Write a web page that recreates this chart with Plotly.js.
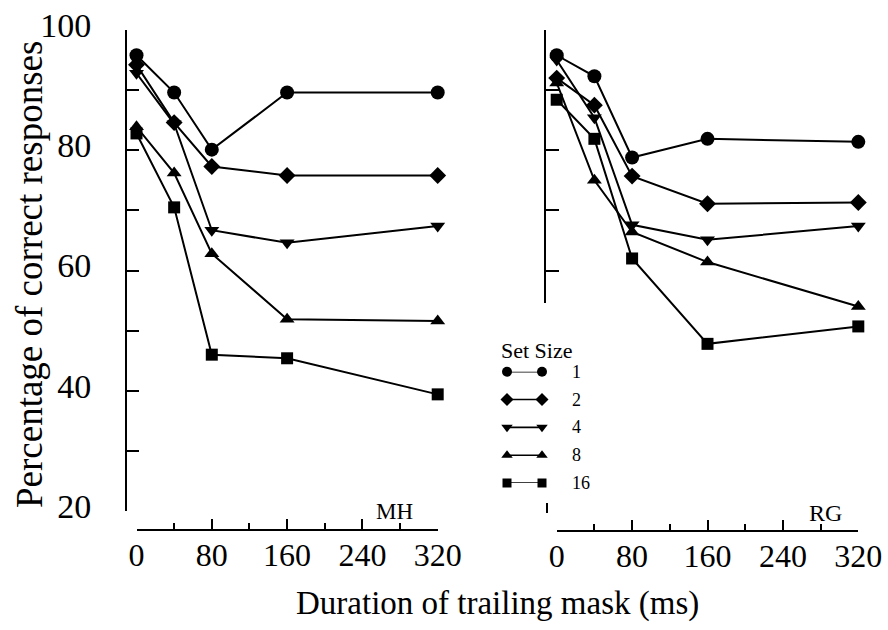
<!DOCTYPE html>
<html><head><meta charset="utf-8">
<script src="https://cdn.plot.ly/plotly-3.0.1.min.js"></script>
<style>html,body{margin:0;padding:0;background:#fff}</style>
</head><body><div id="chart" style="width:888px;height:630px"></div>
<script>
// ---- data ----
const durations = [0, 40, 80, 160, 320];
const setSizes = ['1', '2', '4', '8', '16'];
const mh_1  = [95.8, 89.6, 80.1, 89.6, 89.6];
const mh_2  = [94.2, 84.6, 77.3, 75.8, 75.8];
const mh_4  = [92.8, 84.4, 66.7, 64.6, 67.4];
const mh_8  = [83.9, 76.2, 62.8, 51.9, 51.6];
const mh_16 = [82.8, 70.5, 46.0, 45.4, 39.4];
const rg_1  = [95.8, 92.3, 78.8, 81.9, 81.4];
const rg_2  = [92.0, 87.5, 75.7, 71.1, 71.3];
const rg_4  = [95.0, 85.4, 67.6, 65.1, 67.4];
const rg_8  = [91.2, 75.0, 66.4, 61.4, 54.0];
const rg_16 = [88.4, 81.9, 62.0, 47.8, 50.7];
const xTickVals = [0, 80, 160, 240, 320];
const yTickVals = [20, 30, 40, 50, 60, 70, 80, 90, 100];
const yTickText = ['20', '', '40', '', '60', '', '80', '', '100'];

// ---- styling ----
const W = 888, H = 630;
const px = v => v / W, py = v => 1 - v / H;
const FONT = 'Liberation Serif';
const symbols = ['circle', 'diamond', 'triangle-down', 'triangle-up', 'square'];
const sizes = [14, 13, 13, 13, 12];
const legSizes = [10, 10, 10, 10, 9];
const mhSeries = [mh_1, mh_2, mh_4, mh_8, mh_16];
const rgSeries = [rg_1, rg_2, rg_4, rg_8, rg_16];

const traces = [];
function addPanel(series, xa, ya) {
  series.forEach((vals, i) => {
    traces.push({
      x: durations, y: vals, xaxis: xa, yaxis: ya, type: 'scatter',
      mode: 'lines+markers', cliponaxis: false, showlegend: false,
      name: setSizes[i],
      line: {color: '#000', width: 2},
      marker: {symbol: symbols[i], size: sizes[i], color: '#000', line: {width: 0}}
    });
  });
}
addPanel(mhSeries, 'x', 'y');
addPanel(rgSeries, 'x2', 'y2');
// custom legend drawn as data on its own hidden axes
setSizes.forEach((s, i) => {
  traces.push({
    x: [0, 1], y: [i, i], xaxis: 'x3', yaxis: 'y5', type: 'scatter',
    mode: 'lines+markers', cliponaxis: false, showlegend: false, hoverinfo: 'skip',
    line: {color: '#000', width: 1.6},
    marker: {symbol: symbols[i], size: legSizes[i], color: '#000', line: {width: 0}}
  });
});
// empty traces so the decorative axes get drawn
traces.push({x: [], y: [], xaxis: 'x2', yaxis: 'y3', type: 'scatter', mode: 'markers', showlegend: false, hoverinfo: 'skip'});
traces.push({x: [], y: [], xaxis: 'x2', yaxis: 'y4', type: 'scatter', mode: 'markers', showlegend: false, hoverinfo: 'skip'});

const pxPerUnit = (511 - 30) / 80;
const lineAx = {showline: true, linewidth: 2, linecolor: '#000', showgrid: false, zeroline: false,
  ticks: 'inside', tickwidth: 2, tickcolor: '#000', fixedrange: true};
const xCommon = Object.assign({}, lineAx, {
  range: [0, 320], anchor: 'free', tickmode: 'array', tickvals: xTickVals,
  ticks: 'inside', ticklen: 10, ticklabelstandoff: -3,
  minor: {tickmode: 'linear', tick0: 0, dtick: 40, ticks: 'inside', ticklen: 6, tickwidth: 2, tickcolor: '#000'},
  tickfont: {family: FONT, size: 32, color: '#000'}
});

const layout = {
  width: W, height: H, margin: {l: 0, r: 0, t: 0, b: 0},
  paper_bgcolor: '#fff', plot_bgcolor: 'rgba(0,0,0,0)', showlegend: false,
  font: {family: FONT, color: '#000'},
  xaxis: Object.assign({}, xCommon, {domain: [px(136.5), px(437.7)], position: py(529.5)}),
  xaxis2: Object.assign({}, xCommon, {domain: [px(556.7), px(858.3)], position: py(530.7)}),
  yaxis: Object.assign({}, lineAx, {
    domain: [py(511), py(30)], range: [20, 100], anchor: 'free', position: px(126),
    tickmode: 'array', tickvals: yTickVals, ticktext: yTickText,
    ticklen: 12, ticklabelstandoff: 27, ticklabelshift: -5,
    tickfont: {family: FONT, size: 34, color: '#000'}
  }),
  yaxis2: {domain: [py(511), py(30)], range: [20, 100], anchor: 'x2', visible: false, fixedrange: true},
  yaxis3: Object.assign({}, lineAx, {
    domain: [py(303), py(30)], range: [100 - (303 - 30) / pxPerUnit, 100], anchor: 'free', position: px(545),
    tickmode: 'linear', tick0: 0, dtick: 10, ticklen: 13, showticklabels: false
  }),
  yaxis4: Object.assign({}, lineAx, {
    domain: [py(513), py(503)], range: [20, 20 + 10 / pxPerUnit], anchor: 'free', position: px(547),
    tickmode: 'array', tickvals: [20], ticklen: 11, showticklabels: false
  }),
  xaxis3: {domain: [px(507), px(542)], range: [0, 1], anchor: 'y5', visible: false, fixedrange: true},
  yaxis5: {domain: [py(483), py(371.7)], range: [4, 0], anchor: 'x3', visible: false, fixedrange: true},
  annotations: [
    {text: 'Duration of trailing mask (ms)', xref: 'paper', yref: 'paper', x: px(497), y: py(603),
     xanchor: 'center', yanchor: 'middle', showarrow: false, font: {family: FONT, size: 33, color: '#000'}},
    {text: 'Percentage of correct responses', xref: 'paper', yref: 'paper', x: px(29), y: py(275),
     xanchor: 'center', yanchor: 'middle', textangle: -90, showarrow: false, font: {family: FONT, size: 37, color: '#000'}},
    {text: 'MH', xref: 'paper', yref: 'paper', x: px(394), y: py(511.5), xanchor: 'center', yanchor: 'middle',
     showarrow: false, font: {family: FONT, size: 23, color: '#000'}},
    {text: 'RG', xref: 'paper', yref: 'paper', x: px(825), y: py(513), xanchor: 'center', yanchor: 'middle',
     showarrow: false, font: {family: FONT, size: 24, color: '#000'}},
    {text: 'Set Size', xref: 'paper', yref: 'paper', x: px(537), y: py(350), xanchor: 'center', yanchor: 'middle',
     showarrow: false, font: {family: FONT, size: 22, color: '#000'}}
  ].concat(setSizes.map((s, i) => ({
    text: s, xref: 'x3', yref: 'y5', x: 1, y: i, xanchor: 'left', yanchor: 'middle', xshift: 28,
    showarrow: false, font: {family: FONT, size: 18, color: '#000'}
  })))
};

Plotly.newPlot('chart', traces, layout, {staticPlot: true, displayModeBar: false});
</script></body></html>
